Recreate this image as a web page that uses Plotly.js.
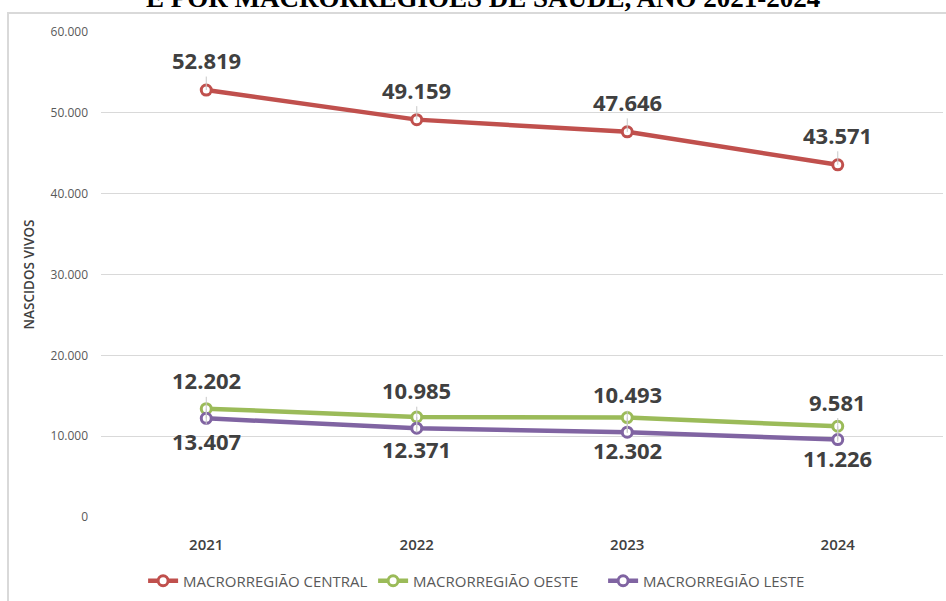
<!DOCTYPE html>
<html>
<head>
<meta charset="utf-8">
<script src="https://cdn.plot.ly/plotly-3.0.1.min.js"></script>
<style>
  body { margin: 0; background: #fff; }
  #wrap { position: relative; width: 946px; height: 601px; overflow: hidden; }
  #frame { position: absolute; left: 7px; top: 12px; right: -10px; bottom: -10px;
           border-top: 2px solid #d9d9d9; border-left: 2px solid #d9d9d9; pointer-events: none; }
  #chart { position: absolute; left: 0; top: 0; width: 946px; height: 601px; }
</style>
</head>
<body>
<div id="wrap">
  <div id="frame"></div>
  <div id="chart"></div>
</div>
<script>
const years = ['2021', '2022', '2023', '2024'];
const central = [52819, 49159, 47646, 43571];
const oeste = [13407, 12371, 12302, 11226];
const leste = [12202, 10985, 10493, 9581];

const RED = '#c0504d', GREEN = '#9bbb59', PURPLE = '#8064a2';

function fmt(v) {
  return String(v).replace(/\B(?=(\d{3})+(?!\d))/g, '.');
}

function series(name, values, color) {
  return {
    x: years, y: values, name: name,
    type: 'scatter', mode: 'lines+markers',
    line: { color: color, width: 4.5 },
    marker: { symbol: 'circle', size: 10, color: '#fff', line: { color: color, width: 3 } },
    hoverinfo: 'skip',
  };
}

// data labels sit above or below each point, like the Excel original
function valueLabels(values, offset) {
  return values.map((v, i) => ({
    x: i, y: v, xref: 'x', yref: 'y',
    text: fmt(v), showarrow: true, arrowhead: 0, arrowwidth: 1, arrowcolor: '#c8c8c8',
    ax: 0, ay: offset,
    font: { family: 'Open Sans', size: 22, weight: 700, color: '#404040' },
  }));
}

Plotly.newPlot('chart', [
  series('MACRORREGIÃO CENTRAL', central, RED),
  series('MACRORREGIÃO OESTE', oeste, GREEN),
  series('MACRORREGIÃO LESTE', leste, PURPLE),
], {
  width: 946, height: 601,
  margin: { l: 101, r: 3, t: 32, b: 84, autoexpand: false },
  paper_bgcolor: 'rgba(0,0,0,0)', plot_bgcolor: 'rgba(0,0,0,0)',
  separators: ',.',
  xaxis: {
    type: 'category', range: [-0.5, 3.5],
    showgrid: false, zeroline: false, showline: false, ticks: '',
    tickfont: { family: 'Open Sans', size: 15, weight: 600, color: '#404040' },
    ticklabelstandoff: 17,
  },
  yaxis: {
    range: [0, 60000], dtick: 10000, tickformat: ',d',
    showgrid: true, gridcolor: '#d9d9d9', gridwidth: 1, zeroline: false, showline: false,
    tickfont: { family: 'Open Sans', size: 12, color: '#595959' },
    ticklabelstandoff: 12,
    title: { text: 'NASCIDOS VIVOS', standoff: 12,
             font: { family: 'Open Sans', size: 13.5, weight: 600, color: '#404040' } },
  },
  showlegend: true,
  legend: {
    orientation: 'h', x: 0.05, xanchor: 'left', y: -0.132, yanchor: 'middle',
    entrywidth: 185, itemwidth: 30,
    font: { family: 'Open Sans', size: 15, color: '#595959' },
  },
  annotations: [
    // chart title, cut off by the top edge in the source image
    { text: 'E POR MACRORREGIÕES DE SAÚDE, ANO 2021-2024', showarrow: false,
      xref: 'paper', yref: 'paper', x: 0.454, y: 1.07, xanchor: 'center', yanchor: 'middle',
      font: { family: 'Liberation Serif', size: 27, weight: 'bold', color: '#000' } },
    ...valueLabels(central, -30),
    ...valueLabels(oeste, 32),
    ...valueLabels(leste, -38),
  ],
}, { displayModeBar: false });
</script>
</body>
</html>
